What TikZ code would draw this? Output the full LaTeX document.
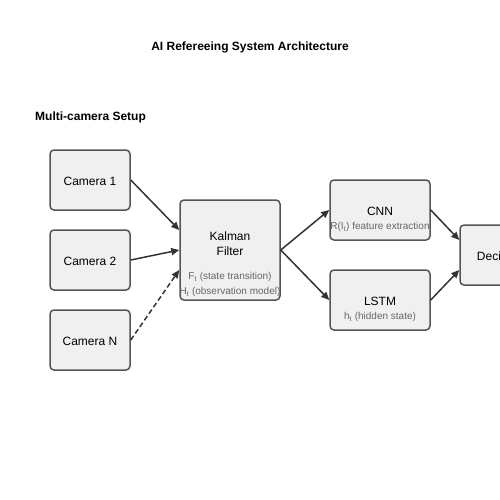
\documentclass[tikz,border=0pt]{standalone}
\usepackage{fontspec}
\setmainfont{Liberation Sans}
\usetikzlibrary{arrows.meta,calc}
\definecolor{boxfill}{HTML}{F0F0F0}
\definecolor{boxline}{HTML}{555555}
\definecolor{arr}{HTML}{333333}
\definecolor{subtxt}{HTML}{666666}
\tikzset{
  box/.style={draw=boxline,fill=boxfill,line width=1.5pt,rounded corners=4pt,minimum width=80pt,minimum height=60pt,inner sep=0pt},
  bigbox/.style={box,minimum width=100pt,minimum height=100pt},
  midbox/.style={box,minimum width=100pt,minimum height=60pt},
  lbl/.style={font=\fontsize{12pt}{14pt}\selectfont,text=black,inner sep=0pt,anchor=center},
  sub/.style={font=\fontsize{10pt}{12pt}\selectfont,text=subtxt,inner sep=0pt,anchor=center},
  conn/.style={draw=arr,line width=1.5pt,-{Triangle[length=8pt,width=7pt]}},
  dashconn/.style={conn,dash pattern=on 5pt off 3pt},
  title/.style={font=\bfseries\fontsize{12pt}{14pt}\selectfont,inner sep=0pt}
}
\begin{document}
\begin{tikzpicture}[x=1pt,y=-1pt]
\useasboundingbox (0,0) rectangle (500,500);
\node[title] (t) at (250,47) {AI Refereeing System Architecture};
\node[title,anchor=west] (ms) at (35,117) {Multi-camera Setup};
% cameras
\node[box] (c1) at (90,180) {};
\node[lbl] (c1t) at (90,181) {Camera 1};
\node[box] (c2) at (90,260) {};
\node[lbl] (c2t) at (90,261) {Camera 2};
\node[box] (cn) at (90,340) {};
\node[lbl] (cnt) at (90,341) {Camera N};
% kalman
\node[bigbox] (kf) at (230,250) {};
\node[lbl] (kf1) at (230,236) {Kalman};
\node[lbl] (kf2) at (230,251) {Filter};
\node[sub] (kf3) at (230,277) {F\textsubscript{t} (state transition)};
\node[sub] (kf4) at (230,292) {H\textsubscript{t} (observation model)};
% cnn
\node[midbox] (cnn) at (380,210) {};
\node[lbl] (cnn1) at (380,211) {CNN};
\node[sub] (cnn2) at (380,227) {R(I\textsubscript{t}) feature extraction};
% lstm
\node[midbox] (lstm) at (380,300) {};
\node[lbl] (lstm1) at (380,301) {LSTM};
\node[sub] (lstm2) at (380,317) {h\textsubscript{t} (hidden state)};
% decision
\node[box] (dec) at (500,255) {};
\node[lbl] (dect) at (500,256) {Decision};
% anchor points
\coordinate (k1) at ($(kf.west)+(0,-20)$);
\coordinate (k2) at ($(kf.west)+(0,0)$);
\coordinate (k3) at ($(kf.west)+(0,20)$);
\coordinate (d1) at ($(dec.west)+(0,-15)$);
\coordinate (d2) at ($(dec.west)+(0,15)$);
\draw[conn] (c1.east) -- (k1);
\draw[conn] (c2.east) -- (k2);
\draw[dashconn] (cn.east) -- (k3);
\draw[conn] (kf.east) -- (cnn.west);
\draw[conn] (kf.east) -- (lstm.west);
\draw[conn] (cnn.east) -- (d1);
\draw[conn] (lstm.east) -- (d2);
\end{tikzpicture}
\end{document}
